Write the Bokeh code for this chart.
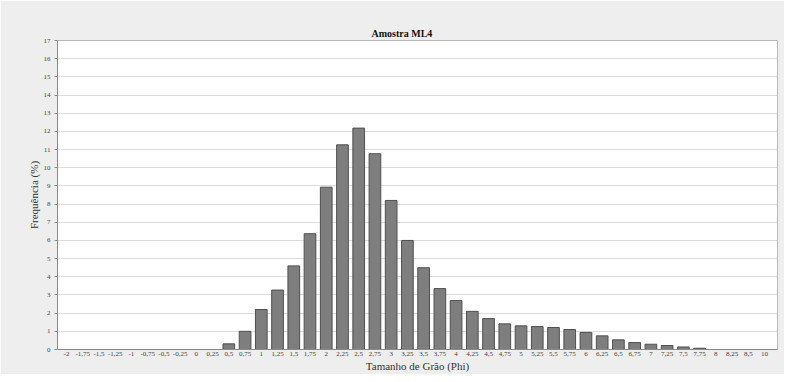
from bokeh.plotting import figure
from bokeh.models import ColumnDataSource, FixedTicker, SingleIntervalTicker, Range1d
from bokeh.embed import file_html
from bokeh.resources import INLINE

title_text = "Amostra ML4"
x_label = "Tamanho de Grão (Phi)"
y_label = "Frequência (%)"

phi = ["-2", "-1,75", "-1,5", "-1,25", "-1", "-0,75", "-0,5", "-0,25", "0", "0,25",
       "0,5", "0,75", "1", "1,25", "1,5", "1,75", "2", "2,25", "2,5", "2,75",
       "3", "3,25", "3,5", "3,75", "4", "4,25", "4,5", "4,75", "5", "5,25",
       "5,5", "5,75", "6", "6,25", "6,5", "6,75", "7", "7,25", "7,5", "7,75",
       "8", "8,25", "8,5", "10"]

freq = [0, 0, 0, 0, 0, 0, 0, 0, 0, 0,
        0.31, 1.0, 2.2, 3.27, 4.6, 6.37, 8.93, 11.26, 12.18, 10.77,
        8.2, 6.0, 4.5, 3.35, 2.69, 2.1, 1.7, 1.41, 1.3, 1.26,
        1.21, 1.1, 0.94, 0.75, 0.53, 0.38, 0.29, 0.22, 0.14, 0.07,
        0, 0, 0, 0]

# categorical slots (one per class, evenly spaced as in the original chart)
slot = list(range(len(phi)))
src = ColumnDataSource(dict(slot=slot, phi=phi, freq=freq))

serif = "Liberation Serif"

p = figure(
    x_range=Range1d(-0.555, len(phi) - 0.2),
    y_range=Range1d(0, 17),
    width=784, height=374,
    output_backend="svg", toolbar_location=None,
    title=title_text,
    min_border_left=57, min_border_right=7, min_border_top=40, min_border_bottom=25,
)

p.vbar(x="slot", top="freq", width=0.72, source=src,
       fill_color="#7e7e7e", line_color="#4f4f4f", line_width=1)

p.border_fill_color = "#eeeeee"
p.background_fill_color = "#ffffff"
p.outline_line_color = "#b8b8b8"

p.title.align = "left"
p.title.text_font = serif
p.title.text_font_size = "10px"
p.title.text_font_style = "bold"
p.title.text_color = "#111111"
p.title.offset = 314
p.title.standoff = 4

p.xgrid.grid_line_color = None
p.ygrid.grid_line_color = "#dcdcdc"
p.ygrid.grid_line_width = 1

p.yaxis.ticker = SingleIntervalTicker(interval=1)
p.yaxis.minor_tick_line_color = None
p.yaxis.major_tick_out = 3
p.yaxis.major_tick_in = 0
p.yaxis.axis_line_color = "#8a8a8a"
p.yaxis.major_tick_line_color = "#8a8a8a"
p.yaxis.major_label_text_font = serif
p.yaxis.major_label_text_font_size = "7px"
p.yaxis.major_label_text_color = "#444444"
p.yaxis.major_label_standoff = 3
p.yaxis.axis_label = y_label
p.yaxis.axis_label_text_font = serif
p.yaxis.axis_label_text_font_size = "11px"
p.yaxis.axis_label_text_font_style = "normal"
p.yaxis.axis_label_text_color = "#333333"
p.yaxis.axis_label_standoff = 1

p.xaxis.ticker = FixedTicker(ticks=slot)
p.xaxis.major_label_overrides = {i: lab for i, lab in zip(slot, phi)}
p.xaxis.minor_tick_line_color = None
p.xaxis.axis_line_color = "#8a8a8a"
p.xaxis.major_tick_line_color = None
p.xaxis.major_tick_out = 0
p.xaxis.major_tick_in = 0
p.xaxis.major_label_text_font = serif
p.xaxis.major_label_text_font_size = "7px"
p.xaxis.major_label_text_color = "#444444"
p.xaxis.major_label_standoff = 2
p.xaxis.axis_label = x_label
p.xaxis.axis_label_text_font = serif
p.xaxis.axis_label_text_font_size = "11px"
p.xaxis.axis_label_text_font_style = "normal"
p.xaxis.axis_label_text_color = "#333333"
p.xaxis.axis_label_standoff = 1

open("out.html", "w").write(file_html(p, INLINE))
